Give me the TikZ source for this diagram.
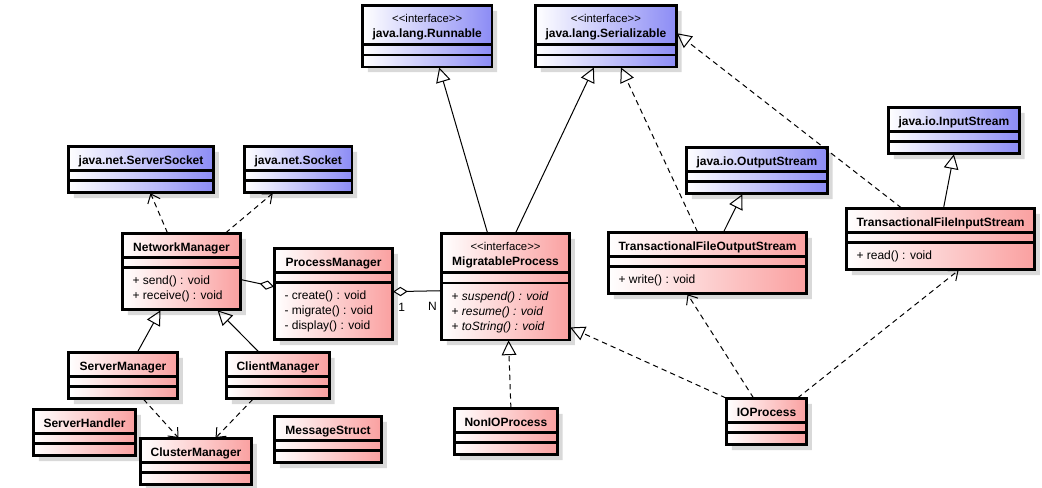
\documentclass[tikz,border=0pt]{standalone}
\usepackage{fontspec}
\setmainfont{Liberation Sans}
\usetikzlibrary{arrows.meta,shapes.multipart,shadows}
\newlength{\pxu}\setlength{\pxu}{0.75pt}
\definecolor{classpink}{RGB}{250,160,160}
\definecolor{libblue}{RGB}{140,140,245}
\newcommand{\cname}[1]{\rule[-2.5pt]{0pt}{13.25pt}\textbf{#1}}
\newcommand{\iname}[1]{\begin{tabular}{@{}c@{}}\rule{0pt}{10pt}{\fontsize{8.5}{10}\selectfont<\kern0pt<interface>\kern0pt>}\\ \textbf{#1}\end{tabular}}
\newcommand{\ops}[1]{\begin{tabular}{@{}l@{}}\rule{0pt}{10.5pt}#1\rule[-5pt]{0pt}{0pt}\end{tabular}}
\newcommand{\nofield}{\rule{0pt}{2.75pt}}
\newcommand{\noops}{\rule{0pt}{4.25pt}}
\tikzset{>=Straight Barb}

\begin{document}
\begin{tikzpicture}[x=\pxu, y=-\pxu,
	umlclass/.style={rectangle split, rectangle split parts=3, rectangle split part align={center,left,left},
		draw, line width=0.8pt, inner xsep=7.5pt, inner ysep=2pt, anchor=north west,
		font=\fontsize{9}{11.25}\selectfont,
		general shadow={fill=black!15, shadow xshift=4pt, shadow yshift=-4pt},
		postaction={draw, line width=2pt}},
	own/.style={umlclass, left color=white, right color=classpink},
	lib/.style={umlclass, left color=white, right color=libblue},
	gen/.style={line width=0.75pt, -{Triangle[open, length=11pt, width=11pt]}},
	real/.style={gen, dash pattern=on 4pt off 3pt},
	dep/.style={line width=0.75pt, dash pattern=on 4pt off 3pt, -{Straight Barb[length=6pt, width=10pt]}},
	aggr/.style={line width=0.75pt, -{Diamond[fill=white, length=11pt, width=7pt]}, font=\fontsize{9}{11}\selectfont}]
	\useasboundingbox (0,0) rectangle (1042,487);
	\node[lib, minimum width=126\pxu] (run) at (362,5) {\iname{java.lang.Runnable}\nodepart{second}\nofield\nodepart{third}\noops};
	\node[lib, minimum width=140\pxu] (ser) at (535,5) {\iname{java.lang.Serializable}\nodepart{second}\nofield\nodepart{third}\noops};
	\node[lib, minimum width=145\pxu] (ssock) at (68,146) {\cname{java.net.ServerSocket}\nodepart{second}\nofield\nodepart{third}\noops};
	\node[lib, minimum width=107\pxu] (sock) at (244,146) {\cname{java.net.Socket}\nodepart{second}\nofield\nodepart{third}\noops};
	\node[lib, minimum width=139\pxu] (ostream) at (686,147) {\cname{java.io.OutputStream}\nodepart{second}\nofield\nodepart{third}\noops};
	\node[lib, minimum width=129\pxu] (istream) at (888,107) {\cname{java.io.InputStream}\nodepart{second}\nofield\nodepart{third}\noops};
	\node[own, minimum width=118\pxu] (netm) at (122,233) {\cname{NetworkManager}\nodepart{second}\nofield\nodepart{third}\ops{+ send() : void\\+ receive() : void}};
	\node[own, minimum width=118\pxu] (procm) at (274,248) {\cname{ProcessManager}\nodepart{second}\nofield\nodepart{third}\ops{- create() : void\\- migrate() : void\\- display() : void}};
	\node[own, minimum width=128\pxu] (migp) at (441,233) {\iname{MigratableProcess}\nodepart{second}\nofield\nodepart{third}\ops{+ \textit{suspend() : void}\\+ \textit{resume() : void}\\+ \textit{toString() : void}}};
	\node[own, minimum width=198\pxu] (tfos) at (608,232) {\cname{TransactionalFileOutputStream}\nodepart{second}\nofield\nodepart{third}\ops{+ write() : void}};
	\node[own, minimum width=186\pxu] (tfis) at (846,208) {\cname{TransactionalFileInputStream}\nodepart{second}\nofield\nodepart{third}\ops{+ read() : void}};
	\node[own, minimum width=109\pxu] (srvm) at (68,352) {\cname{ServerManager}\nodepart{second}\nofield\nodepart{third}\noops};
	\node[own, minimum width=102\pxu] (climgr) at (226,352) {\cname{ClientManager}\nodepart{second}\nofield\nodepart{third}\noops};
	\node[own, minimum width=102\pxu] (srvh) at (33,409) {\cname{ServerHandler}\nodepart{second}\nofield\nodepart{third}\noops};
	\node[own, minimum width=111\pxu] (clum) at (140,438) {\cname{ClusterManager}\nodepart{second}\nofield\nodepart{third}\noops};
	\node[own, minimum width=107\pxu] (msgs) at (274,416) {\cname{MessageStruct}\nodepart{second}\nofield\nodepart{third}\noops};
	\node[own, minimum width=102\pxu] (nonio) at (454,408) {\cname{NonIOProcess}\nodepart{second}\nofield\nodepart{third}\noops};
	\node[own, minimum width=80\pxu] (iop) at (726,398) {\cname{IOProcess}\nodepart{second}\nofield\nodepart{third}\noops};
	\path[gen]
		([xshift=-18\pxu]migp.north) edge ([xshift=12\pxu]run.south)
		([xshift=10\pxu]migp.north) edge ([xshift=-12\pxu]ser.south)
		([xshift=16\pxu]tfos.north) edge ([xshift=-14.5\pxu]ostream.south)
		([xshift=3\pxu]tfis.north) edge (istream.south)
		([xshift=14.5\pxu]srvm.north) edge ([xshift=-21\pxu]netm.south)
		([xshift=-19\pxu]climgr.north) edge ([xshift=36\pxu]netm.south);
	\path[real]
		([xshift=-10\pxu]tfos.north) edge ([xshift=15\pxu]ser.south)
		([xshift=-39\pxu]tfis.north) edge ([yshift=3\pxu]ser.east)
		([xshift=5\pxu]nonio.north) edge ([xshift=3\pxu]migp.south)
		(iop.north west) edge ([yshift=13\pxu]migp.south east);
	\path[dep]
		([xshift=-14\pxu]netm.north) edge ([xshift=9.5\pxu]ssock.south)
		([xshift=44\pxu]netm.north) edge ([xshift=-25.5\pxu]sock.south)
		([xshift=20.5\pxu]srvm.south) edge ([xshift=-17.5\pxu]clum.north)
		([xshift=-25\pxu]climgr.south) edge ([xshift=19.5\pxu]clum.north)
		([xshift=-13\pxu]iop.north) edge ([xshift=-20\pxu]tfos.south)
		([xshift=31\pxu]iop.north) edge ([xshift=18\pxu]tfis.south);
	\path[aggr]
		([yshift=-8\pxu]netm.east) edge ([yshift=7.5\pxu]procm.west)
		([yshift=-4\pxu]migp.west) edge node[pos=0.18, below=5pt] {N} node[pos=0.82, below=5pt] {1} ([yshift=2.5\pxu]procm.east);
\end{tikzpicture}
\end{document}
